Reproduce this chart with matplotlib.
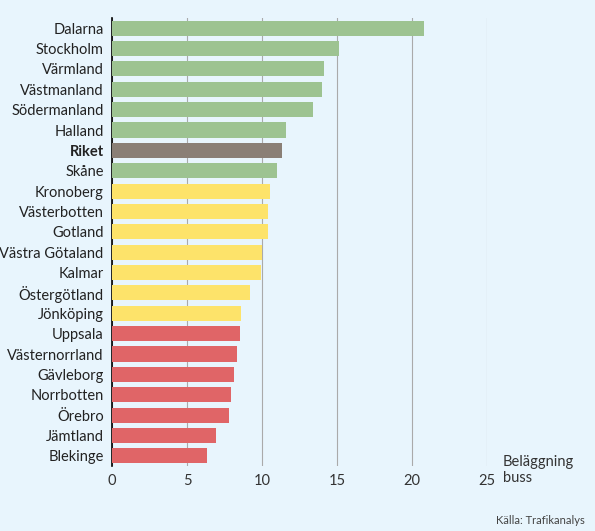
import matplotlib
matplotlib.use("Agg")
import matplotlib.pyplot as plt
plt.rcParams['font.family'] = ['Lato', 'DejaVu Sans']

regions = ["Dalarna","Stockholm","Värmland","Västmanland","Södermanland","Halland","Riket","Skåne",
           "Kronoberg","Västerbotten","Gotland","Västra Götaland","Kalmar","Östergötland","Jönköping",
           "Uppsala","Västernorrland","Gävleborg","Norrbotten","Örebro","Jämtland","Blekinge"]
values = [20.8,15.1,14.1,14.0,13.4,11.6,11.3,11.0,10.5,10.4,10.4,10.0,9.9,9.2,8.6,8.5,8.3,8.1,7.9,7.8,6.9,6.3]
groups = ["g"]*6 + ["r"] + ["g"] + ["y"]*7 + ["d"]*7
palette = {"g":"#9dc391","r":"#8a7f76","y":"#fde36a","d":"#e06567"}
xticks = [0,5,10,15,20,25]

bg = "#e8f5fd"
fig = plt.figure(figsize=(5.95,5.31), dpi=100, facecolor=bg)
ax = fig.add_axes([112/595, 1-466/531, 375/595, 448/531], facecolor=bg)
y = range(len(regions))
ax.barh(y, values, color=[palette[g] for g in groups], height=0.74, zorder=3)
ax.set_ylim(len(regions)-0.5, -0.5)
ax.set_xlim(0,25)
ax.set_xticks(xticks)
ax.set_yticks(list(y))
ax.set_yticklabels(regions)
for lbl, r in zip(ax.get_yticklabels(), regions):
    lbl.set_fontsize(10.5)
    lbl.set_color("#222222")
    if r == "Riket":
        lbl.set_fontweight("bold")
ax.tick_params(axis="y", length=0, pad=6)
ax.tick_params(axis="x", length=0, labelsize=10.5, colors="#333333", pad=6)
ax.xaxis.grid(True, color="#aaaaaa", lw=0.8, zorder=0)
for s in ["top","right","bottom"]:
    ax.spines[s].set_visible(False)
ax.spines["left"].set_color("black")
ax.spines["left"].set_linewidth(1.2)
fig.text(503/595, 1-470/531, "Beläggning\nbuss", fontsize=10.5, color="#333333", va="center", ha="left")
fig.text(585/595, 1-520/531, "Källa: Trafikanalys", fontsize=8, color="#444444", ha="right", va="center")
fig.savefig("out.png", dpi=100, facecolor=bg)
